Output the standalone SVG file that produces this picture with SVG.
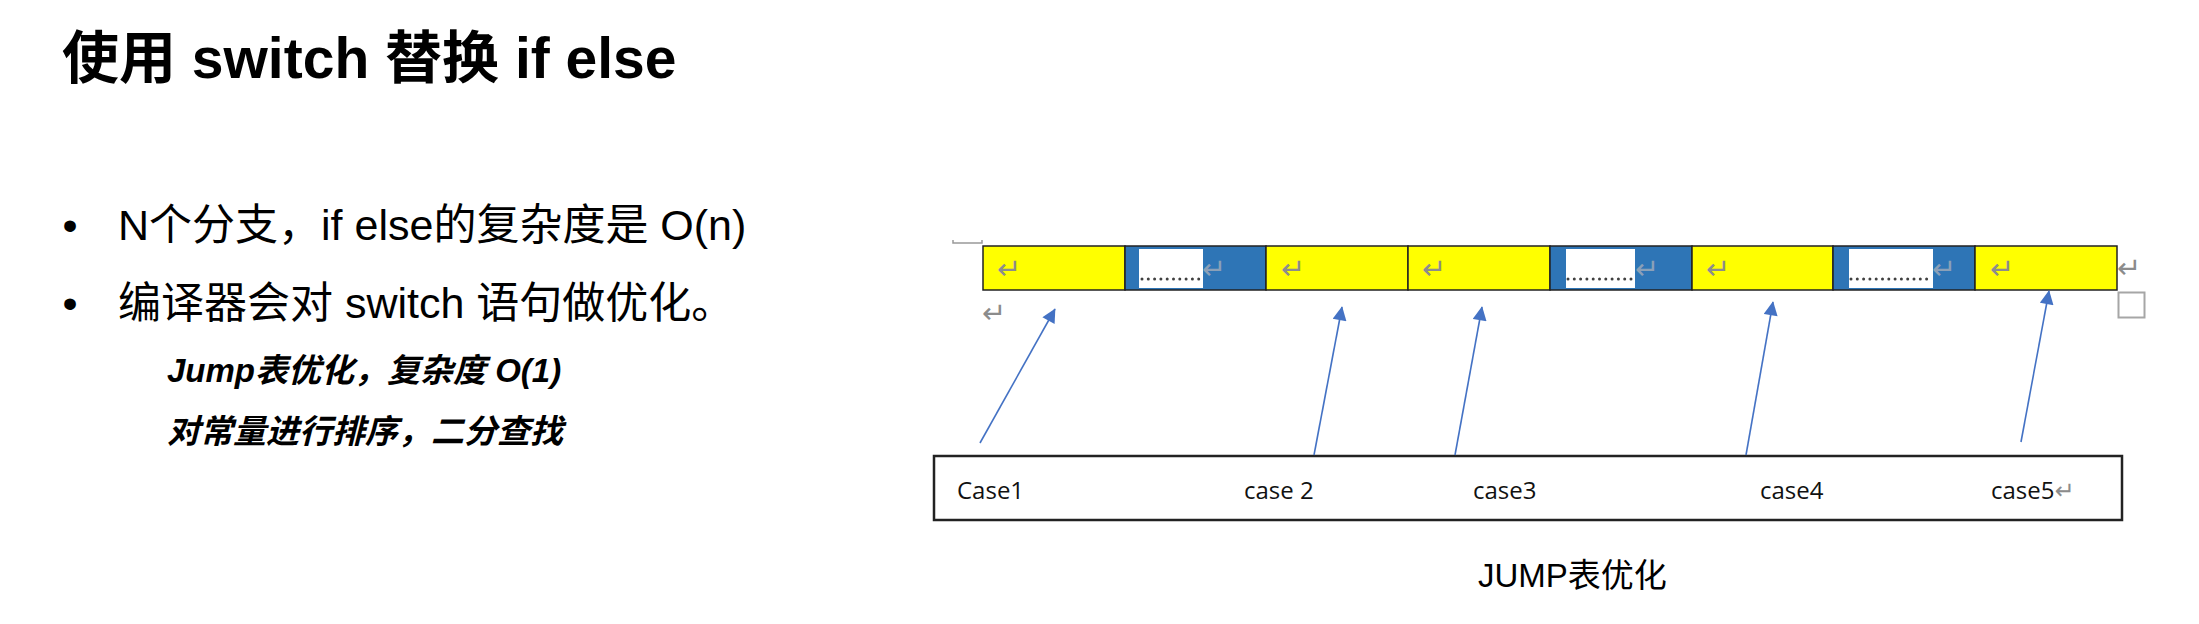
<svg xmlns="http://www.w3.org/2000/svg" width="2199" height="624" viewBox="0 0 2199 624">
<defs>
<style>
.t{font-family:"Liberation Sans","Noto Sans CJK SC",sans-serif;fill:#000}
.title{font-size:57px;font-weight:bold}
.b{font-size:43px}
.sub{font-size:33px;font-weight:bold;font-style:italic}
.lbl{font-family:"Open Sans","Noto Sans CJK SC",sans-serif;font-size:24px;fill:#111}
.ret{font-family:"DejaVu Sans",sans-serif;font-size:29px;fill:#8c8c8c}
.y{fill:#FFFF00;stroke:#222;stroke-width:1.5}
.bl{fill:#2E75B6;stroke:#222;stroke-width:1.5}
.w{fill:#fff}
.dots{stroke:#404040;stroke-width:3;stroke-linecap:round;stroke-dasharray:0 6.3}
.arr{stroke:#4472C4;stroke-width:1.6;fill:none;marker-end:url(#ah)}
</style>
<marker id="ah" viewBox="0 0 10 10" refX="9.5" refY="5" markerWidth="17" markerHeight="14" markerUnits="userSpaceOnUse" orient="auto">
<path d="M0,0 L10,5 L0,10 z" fill="#4472C4"/>
</marker>
</defs>
<rect width="2199" height="624" fill="#fff"/>

<g id="title"><text class="t title" x="62" y="78">使用 switch 替换 if else</text></g>

<g id="bullets">
<text class="t b" x="70" y="240" text-anchor="middle">•</text>
<text class="t b" x="118" y="240">N个分支，if else的复杂度是 O(n)</text>
<text class="t b" x="70" y="318" text-anchor="middle">•</text>
<text class="t b" x="118" y="318">编译器会对 switch 语句做优化。</text>
<text class="t sub" x="167" y="382">Jump表优化，复杂度 O(1)</text>
<text class="t sub" x="167" y="443">对常量进行排序，二分查找</text>
</g>

<g id="table-marks">
<path d="M953,240 v3 h29 v-3" fill="none" stroke="#999" stroke-width="1.5"/>
<text class="ret" x="982" y="323">↵</text>
<text class="ret" x="2117" y="278">↵</text>
<rect x="2118.5" y="292.5" width="26" height="25" fill="none" stroke="#a6a6a6" stroke-width="2"/>
</g>

<g id="cell1"><rect class="y" x="983" y="246" width="142" height="44"/><text class="ret" x="997" y="279">↵</text></g>
<g id="cell2"><rect class="bl" x="1125" y="246" width="141" height="44"/><rect class="w" x="1139" y="249" width="64" height="39"/><line class="dots" x1="1142" y1="279" x2="1201" y2="279"/><text class="ret" x="1202" y="279" style="fill:#8aa0b8">↵</text></g>
<g id="cell3"><rect class="y" x="1266" y="246" width="142" height="44"/><text class="ret" x="1281" y="279">↵</text></g>
<g id="cell4"><rect class="y" x="1408" y="246" width="142" height="44"/><text class="ret" x="1422" y="279">↵</text></g>
<g id="cell5"><rect class="bl" x="1550" y="246" width="142" height="44"/><rect class="w" x="1566" y="249" width="69" height="39"/><line class="dots" x1="1568" y1="279" x2="1633" y2="279"/><text class="ret" x="1635" y="279" style="fill:#8aa0b8">↵</text></g>
<g id="cell6"><rect class="y" x="1692" y="246" width="141" height="44"/><text class="ret" x="1706" y="279">↵</text></g>
<g id="cell7"><rect class="bl" x="1833" y="246" width="142" height="44"/><rect class="w" x="1849" y="249" width="84" height="39"/><line class="dots" x1="1851" y1="279" x2="1931" y2="279"/><text class="ret" x="1932" y="279" style="fill:#8aa0b8">↵</text></g>
<g id="cell8"><rect class="y" x="1975" y="246" width="142" height="44"/><text class="ret" x="1990" y="279">↵</text></g>

<g id="case-box">
<rect x="934" y="456" width="1188" height="64" fill="#fff" stroke="#222" stroke-width="2.5"/>
<text class="lbl" x="957" y="499">Case1</text>
<text class="lbl" x="1244" y="499">case 2</text>
<text class="lbl" x="1473" y="499">case3</text>
<text class="lbl" x="1760" y="499">case4</text>
<text class="lbl" x="1991" y="499">case5<tspan class="ret" style="font-size:24px">↵</tspan></text>
</g>

<g id="connectors">
<line class="arr" x1="980" y1="443" x2="1055" y2="309"/>
<line class="arr" x1="1314" y1="455" x2="1342" y2="307"/>
<line class="arr" x1="1455" y1="455" x2="1482" y2="307"/>
<line class="arr" x1="1746" y1="455" x2="1773" y2="302"/>
<line class="arr" x1="2021" y1="442" x2="2049" y2="291"/>
</g>

<g id="caption"><text class="t" x="1478" y="587" style="font-size:33px">JUMP表优化</text></g>
</svg>
